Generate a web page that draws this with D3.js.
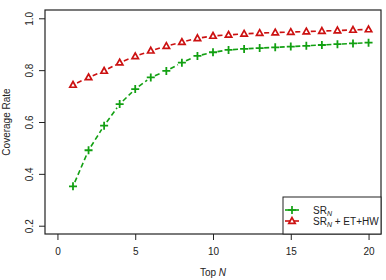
<!DOCTYPE html>
<html>
<head>
<meta charset="utf-8">
<script src="https://cdn.jsdelivr.net/npm/d3@7"></script>
<style>
  body { margin: 0; background: #fff; }
  svg { font-family: "Liberation Sans", Arial, sans-serif; }
</style>
</head>
<body>
<div id="chart"></div>
<script>
(() => {
  // Chart values
  const topN = d3.range(1, 21);
  const srN = [0.352, 0.491, 0.586, 0.669, 0.727, 0.772, 0.797, 0.829, 0.855, 0.869,
               0.878, 0.882, 0.885, 0.888, 0.891, 0.894, 0.897, 0.900, 0.903, 0.906];
  const srNEtHw = [0.743, 0.772, 0.797, 0.829, 0.853, 0.875, 0.893, 0.908, 0.923, 0.932,
                   0.936, 0.940, 0.943, 0.945, 0.947, 0.949, 0.951, 0.953, 0.955, 0.957];
  const xTicks = [0, 5, 10, 15, 20];
  const yTicks = [0.2, 0.4, 0.6, 0.8, 1.0];

  const width = 386, height = 280;
  const margin = { top: 10, right: 5, bottom: 46, left: 45 };
  const green = "#12a012", red = "#cc1111";

  const svg = d3.select("#chart").append("svg")
    .attr("width", width)
    .attr("height", height);

  const x = d3.scaleLinear()
    .domain([-0.8, 20.8])
    .range([margin.left, width - margin.right]);
  const y = d3.scaleLinear()
    .domain([0.168, 1.032])
    .range([height - margin.bottom, margin.top]);

  // Axes
  const xAxis = svg.append("g")
    .attr("transform", `translate(0,${y.range()[0]})`)
    .call(d3.axisBottom(x).tickValues(xTicks).tickSize(6).tickPadding(8).tickFormat(d3.format("d")));
  const yAxis = svg.append("g")
    .attr("transform", `translate(${x.range()[0]},0)`)
    .call(d3.axisLeft(y).tickValues(yTicks).tickSize(6).tickFormat(d3.format(".1f")));
  [xAxis, yAxis].forEach(g => {
    g.select(".domain").remove();
    g.selectAll("line").attr("stroke", "#222");
    g.selectAll("text").attr("font-size", 10).attr("fill", "#222")
      .attr("font-family", "Liberation Sans, Arial, sans-serif");
  });
  // tick texts sit inside tick groups already translated to y(d)
  yAxis.selectAll("text")
    .attr("x", -16)
    .attr("y", 0)
    .attr("dy", "0.35em")
    .attr("transform", "rotate(-90,-16,0)")
    .attr("text-anchor", "middle");

  // Plot box
  svg.append("rect")
    .attr("x", x.range()[0])
    .attr("y", y.range()[1])
    .attr("width", x.range()[1] - x.range()[0])
    .attr("height", y.range()[0] - y.range()[1])
    .attr("fill", "none")
    .attr("stroke", "#222")
    .attr("stroke-width", 1.2);

  // Axis titles
  svg.append("text")
    .attr("transform", `translate(6,${(y.range()[0] + y.range()[1]) / 2}) rotate(-90)`)
    .attr("text-anchor", "middle")
    .attr("dy", "0.35em")
    .attr("font-size", 10)
    .attr("fill", "#222")
    .text("Coverage Rate");

  const xTitle = svg.append("text")
    .attr("x", (x.range()[0] + x.range()[1]) / 2)
    .attr("y", 276)
    .attr("text-anchor", "middle")
    .attr("font-size", 10)
    .attr("fill", "#222");
  xTitle.append("tspan").text("Top ");
  xTitle.append("tspan").attr("font-style", "italic").text("N");

  // Series: dashed segments with gaps around points (R type="b")
  const series = [
    { values: srN, color: green, shape: "plus" },
    { values: srNEtHw, color: red, shape: "triangle" }
  ];
  const gap = 4.5;

  const marker = (shape, cx, cy) => shape === "plus"
    ? `M${cx - 4},${cy}H${cx + 4}M${cx},${cy - 4}V${cy + 4}`
    : `M${cx},${cy - 3.4}L${cx + 3.2},${cy + 2.3}L${cx - 3.2},${cy + 2.3}Z`;

  series.forEach(s => {
    const pts = topN.map((n, i) => [x(n), y(s.values[i])]);
    const segs = d3.pairs(pts).map(([a, b]) => {
      const dx = b[0] - a[0], dy = b[1] - a[1];
      const len = Math.hypot(dx, dy);
      const ux = dx / len, uy = dy / len;
      return [a[0] + ux * gap, a[1] + uy * gap, b[0] - ux * gap, b[1] - uy * gap];
    });
    const g = svg.append("g");
    g.selectAll("line")
      .data(segs)
      .join("line")
      .attr("x1", d => d[0]).attr("y1", d => d[1])
      .attr("x2", d => d[2]).attr("y2", d => d[3])
      .attr("stroke", s.color)
      .attr("stroke-width", 1.6)
      .attr("stroke-dasharray", "5,3");

    g.selectAll("path.pt")
      .data(pts)
      .join("path")
      .attr("class", "pt")
      .attr("d", d => marker(s.shape, d[0], d[1]))
      .attr("fill", "none")
      .attr("stroke", s.color)
      .attr("stroke-width", s.shape === "plus" ? 1.8 : 1.7);
  });

  // Legend
  const lx = 283, ly = 197, lw = x.range()[1] - lx, lh = y.range()[0] - ly;
  svg.append("rect")
    .attr("x", lx).attr("y", ly)
    .attr("width", lw).attr("height", lh)
    .attr("fill", "#fff")
    .attr("stroke", "#222")
    .attr("stroke-width", 1);

  const legendItems = [
    { suffix: "", color: green, shape: "plus", yy: 210 },
    { suffix: " + ET+HW", color: red, shape: "triangle", yy: 221 }
  ];
  legendItems.forEach(it => {
    const cx = 292;
    svg.append("line")
      .attr("x1", 285).attr("x2", 299)
      .attr("y1", it.yy).attr("y2", it.yy)
      .attr("stroke", it.color).attr("stroke-width", 1.6);
    svg.append("path")
      .attr("d", marker(it.shape, cx, it.yy))
      .attr("fill", it.shape === "plus" ? "none" : "#fff")
      .attr("stroke", it.color)
      .attr("stroke-width", 1.7);
    const t = svg.append("text")
      .attr("x", 313).attr("y", it.yy)
      .attr("dy", "0.35em")
      .attr("font-size", 10)
      .attr("fill", "#222");
    t.append("tspan").text("SR");
    t.append("tspan").attr("font-size", 7).attr("font-style", "italic").attr("dy", 2).text("N");
    if (it.suffix) t.append("tspan").attr("dy", -2).text(it.suffix);
  });
})();
</script>
</body>
</html>
